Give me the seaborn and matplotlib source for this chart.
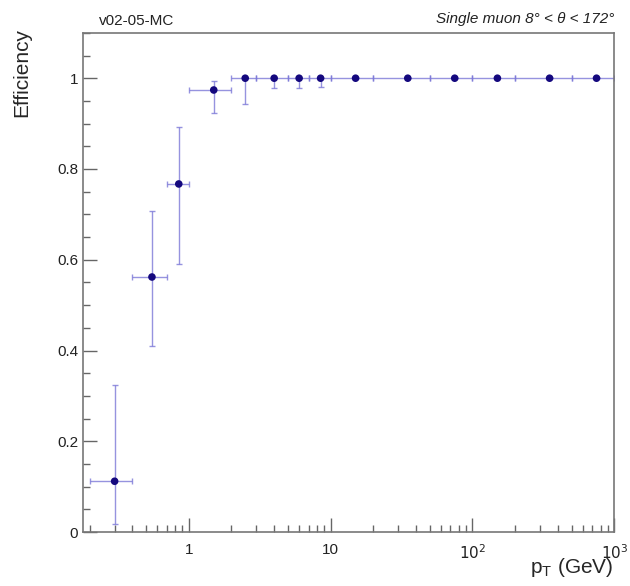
import numpy as np
import pandas as pd
import matplotlib
matplotlib.use("Agg")
import matplotlib.pyplot as plt
import matplotlib.ticker as mticker
import seaborn as sns

# bins in pT (GeV)
bin_lo = [0.2, 0.4, 0.7, 1.0, 2.0, 3.0, 5.0, 7.0, 10.0, 20.0, 50.0, 100.0, 200.0, 500.0]
bin_hi = [0.4, 0.7, 1.0, 2.0, 3.0, 5.0, 7.0, 10.0, 20.0, 50.0, 100.0, 200.0, 500.0, 1000.0]
pt_center = [0.3, 0.55, 0.85, 1.5, 2.5, 4.0, 6.0, 8.5, 15.0, 35.0, 75.0, 150.0, 350.0, 750.0]
efficiency = [0.112, 0.562, 0.767, 0.974, 1.0, 1.0, 1.0, 1.0, 1.0, 1.0, 1.0, 1.0, 1.0, 1.0]
eff_low = [0.018, 0.409, 0.591, 0.923, 0.943, 0.978, 0.978, 0.980, 1.0, 1.0, 1.0, 1.0, 1.0, 1.0]
eff_high = [0.323, 0.708, 0.892, 0.994, 1.0, 1.0, 1.0, 1.0, 1.0, 1.0, 1.0, 1.0, 1.0, 1.0]

df = pd.DataFrame({"pt": pt_center, "eff": efficiency,
                   "lo": bin_lo, "hi": bin_hi, "elo": eff_low, "ehi": eff_high})

sns.set_style("ticks")
plt.rcParams["font.family"] = ["Liberation Sans", "DejaVu Sans"]

fig = plt.figure(figsize=(6.3, 5.86), dpi=100)
ax = fig.add_axes([0.132, 0.092, 0.843, 0.852])

xerr = np.array([df["pt"] - df["lo"], df["hi"] - df["pt"]])
yerr = np.array([df["eff"] - df["elo"], df["ehi"] - df["eff"]])
ax.errorbar(df["pt"], df["eff"], xerr=xerr, yerr=yerr, fmt="none",
            ecolor="#7c78d8", elinewidth=1.0, capsize=2, capthick=1.0, alpha=0.8)
sns.scatterplot(data=df, x="pt", y="eff", ax=ax, color="#14087e", s=30,
                edgecolor="none", zorder=3)

ax.set_xscale("log")
ax.set_xlim(0.18, 1000)
ax.set_ylim(0, 1.1)

ax.xaxis.set_major_locator(mticker.FixedLocator([1, 10, 100, 1000]))
ax.xaxis.set_major_formatter(mticker.FixedFormatter(["1", "10", "$10^{2}$", "$10^{3}$"]))
ax.xaxis.set_minor_locator(mticker.LogLocator(base=10, subs=np.arange(2, 10), numticks=20))
ax.xaxis.set_minor_formatter(mticker.NullFormatter())
ax.yaxis.set_major_locator(mticker.MultipleLocator(0.2))
ax.yaxis.set_minor_locator(mticker.MultipleLocator(0.05))
ax.yaxis.set_major_formatter(mticker.FuncFormatter(lambda v, p: f"{v:g}"))

ax.tick_params(which="both", direction="in", top=False, right=False,
               color="#666666", labelsize=11, labelcolor="#222222")
ax.tick_params(which="major", length=10, width=1)
ax.tick_params(which="minor", length=5, width=1)
ax.tick_params(axis="x", pad=8)

for s in ax.spines.values():
    s.set_color("#777777")
    s.set_linewidth(1.2)

ax.set_xlabel("p$_{\\mathregular{T}}$ (GeV)", fontsize=15, loc="right")
ax.xaxis.set_label_coords(0.998, -0.047)
ax.xaxis.label.set_va("top")
ax.set_ylabel("Efficiency", fontsize=15, loc="top")
ax.yaxis.set_label_coords(-0.097, 1.01)

fig.text(0.157, 0.952, "v02-05-MC", fontsize=11, ha="left", va="bottom", color="#222222")
fig.text(0.975, 0.955, "Single muon 8° < θ < 172°", fontsize=11, ha="right",
         va="bottom", style="italic", color="#222222")

fig.savefig("out.png", dpi=100)
